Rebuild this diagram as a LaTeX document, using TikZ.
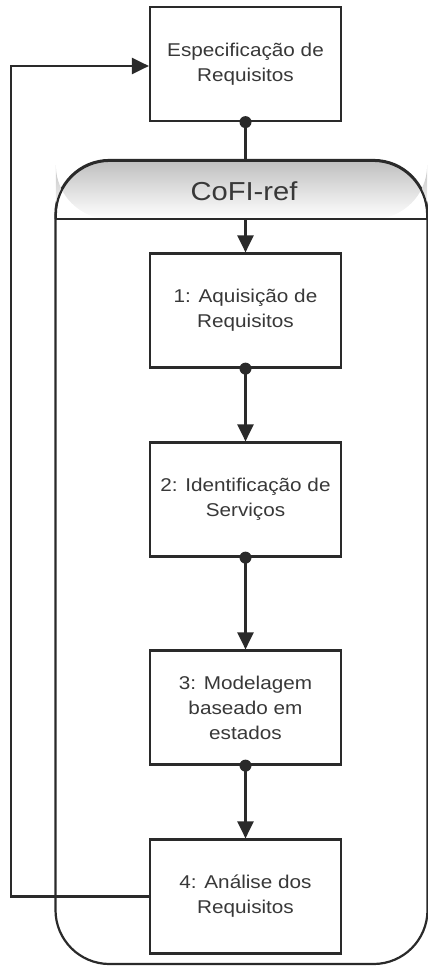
\documentclass[tikz,border=0pt]{standalone}
\usepackage{fontspec}
\setmainfont{Liberation Sans}[FakeStretch=1.12]
\usetikzlibrary{arrows.meta}
\definecolor{ln}{HTML}{2A2A2A}
\definecolor{tx}{HTML}{383838}
\tikzset{
  stepbox/.style={draw=ln, line width=2.2pt, fill=white, minimum width=191pt, minimum height=114pt,
    inner sep=2pt, align=center, text=tx, font=\fontsize{18.5}{25}\selectfont},
  conn/.style={draw=ln, line width=2.2pt},
  tip/.style={-{Triangle[length=17pt,width=16pt]}},
}
\begin{document}
\begin{tikzpicture}[x=1pt,y=-1pt]
\useasboundingbox (0,0) rectangle (428,966);
% container
\node[draw=ln, line width=2.2pt, rounded corners=54pt, minimum width=372pt, minimum height=804pt, inner sep=0pt] (cont) at (241.5,562) {};
\shade[top color=gray!50, bottom color=white, rounded corners=54pt] (55.8,219) -- (55.8,160.8) -- (427.2,160.8) -- (427.2,219) -- cycle;
\draw[ln, line width=2.2pt, rounded corners=54pt] (55.8,219) -- (55.8,160.8) -- (427.2,160.8) -- (427.2,219);
\coordinate (hl) at (55,219);
\coordinate (hr) at (428,219);
\draw[conn] (hl) -- (hr);
\node[text=tx, font=\fontsize{26}{30}\selectfont] (title) at (244,191) {CoFI-ref};
\coordinate (hdr) at (245.5,219);
\coordinate (ctop) at (245.5,160);
% boxes
\node[stepbox] (top) at (245.5,64) {Especificação de\\Requisitos};
\node[stepbox] (b1) at (245.5,310.5) {1: Aquisição de\\Requisitos};
\node[stepbox] (b2) at (245.5,499.5) {2: Identificação de\\Serviços};
\node[stepbox] (b3) at (245.5,707.5) {3: Modelagem\\baseado em\\estados};
\node[stepbox] (b4) at (245.5,896.5) {4: Análise dos\\Requisitos};
% connectors
\draw[conn] (top.south) -- (ctop);
\draw[conn,tip] (hdr) -- (b1.north);
\draw[conn,tip] (b1.south) -- (b2.north);
\draw[conn,tip] (b2.south) -- (b3.north);
\draw[conn,tip] (b3.south) -- (b4.north);
\coordinate (lb) at (11,896.5);
\coordinate (lt) at (11,66);
\draw[conn,tip] (b4.west) -- (lb) -- (lt) -- (top.west |- lt);
% dots
\foreach \n in {top,b1,b2,b3} \fill[ln] (\n.south) circle (6pt);
\end{tikzpicture}
\end{document}
